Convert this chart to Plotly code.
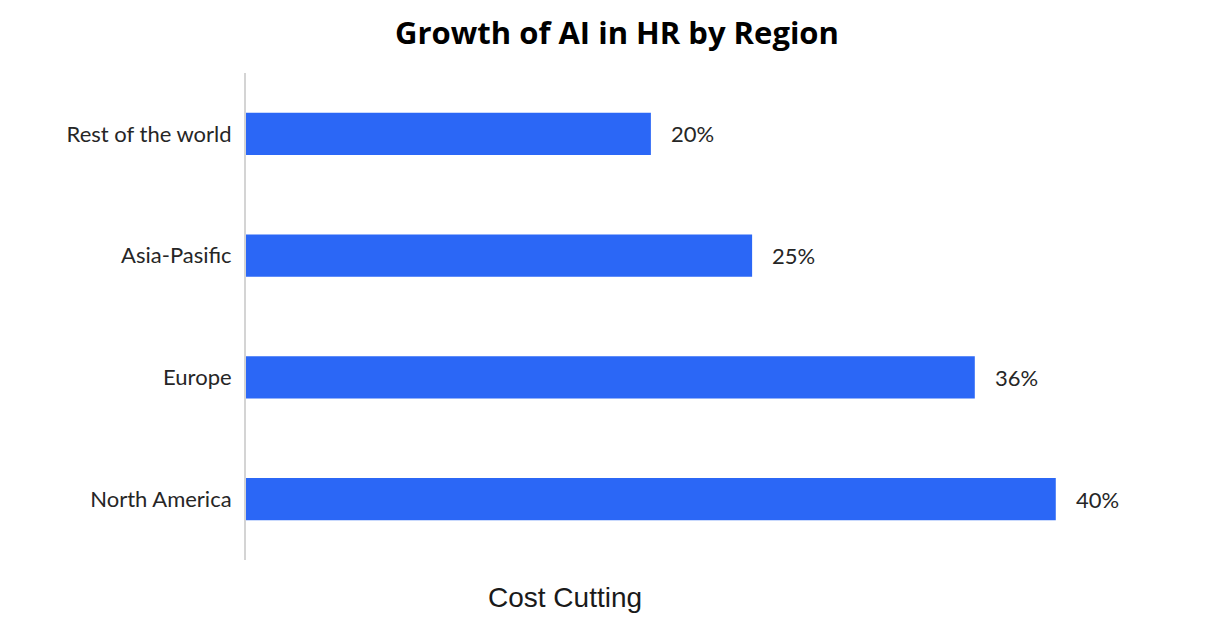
import plotly.graph_objects as go

# data
regions = ["North America", "Europe", "Asia-Pasific", "Rest of the world"]
growth = [40, 36, 25, 20]
labels = ["40%", "36%", "25%", "20%"]

bar_color = "#2b67f6"

fig = go.Figure()
fig.add_trace(go.Bar(
    x=growth,
    y=regions,
    orientation="h",
    marker=dict(color=bar_color, line=dict(width=0)),
    hoverinfo="skip",
))

# value labels sit a bit right of the bar ends
for r, v, lab in zip(regions, growth, labels):
    fig.add_annotation(x=v, y=r, text=lab, showarrow=False,
                       xanchor="left", xshift=18,
                       font=dict(family="Lato", size=22, color="#262626"))

# axis title is off-centre in the original, so use an annotation
fig.add_annotation(x=0.35, y=-0.078, xref="paper", yref="paper",
                   xanchor="center", yanchor="middle",
                   text="Cost Cutting", showarrow=False,
                   font=dict(family="Liberation Sans, Arial", size=28, color="#1a1a1a"))

# page has 8px body margin, margins are shifted for that
fig.update_layout(
    width=1218, height=632,
    margin=dict(l=238, r=69, t=65, b=80),
    paper_bgcolor="white", plot_bgcolor="white",
    bargap=0.655,
    showlegend=False,
    title=dict(text="<b>Growth of AI in HR by Region</b>",
               x=0.5, xanchor="center", y=1 - 25 / 632, yanchor="middle",
               font=dict(family="Open Sans", size=31, color="black")),
    xaxis=dict(range=[0, 45], showticklabels=False, showgrid=False,
               zeroline=False, showline=False),
    yaxis=dict(range=[-0.5, 3.5], showgrid=False, zeroline=False,
               showline=True, linecolor="#d4d4d4", linewidth=2,
               ticks="", ticklabelstandoff=8,
               tickfont=dict(family="Lato", size=22, color="#262626")),
)

fig.write_html("out.html")
